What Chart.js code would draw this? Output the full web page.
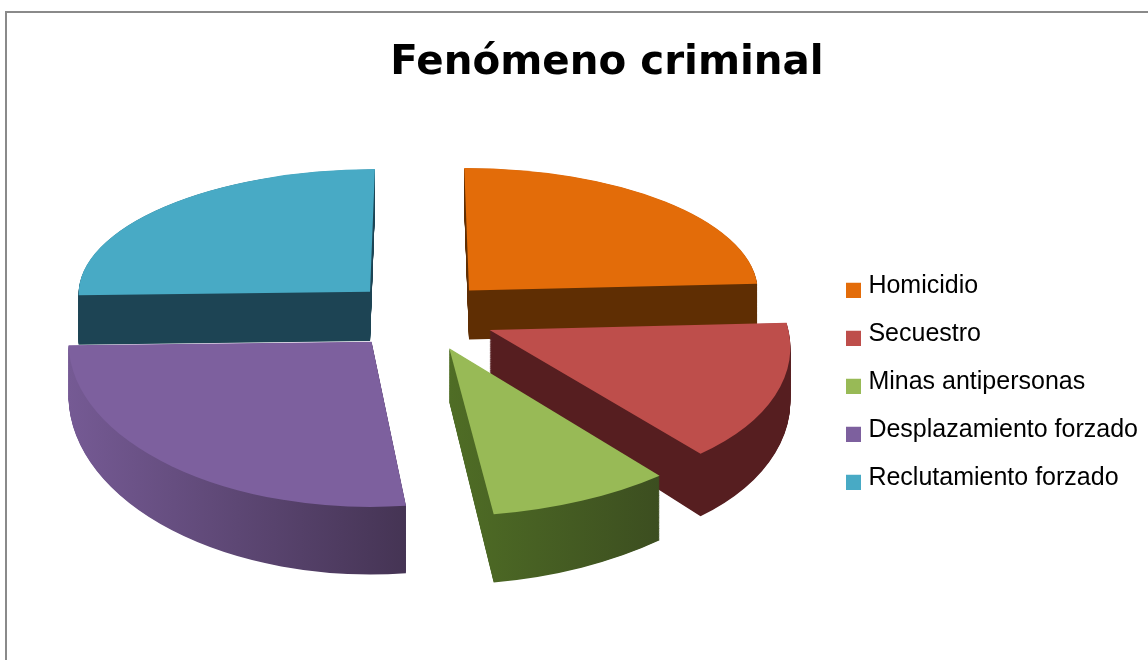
<!DOCTYPE html>
<html lang="es">
<head>
<meta charset="utf-8">
<script src="https://cdn.jsdelivr.net/npm/chart.js@4"></script>
<style>
html,body{margin:0;padding:0;background:#fff;overflow:hidden;width:1148px;height:660px}
#frame{position:absolute;left:5px;top:11px;width:1300px;height:800px;border:2px solid #8a8a8a;box-sizing:border-box}
canvas{position:absolute;left:0;top:0}
</style>
</head>
<body>
<div id="frame"></div>
<canvas id="c" width="1148" height="660"></canvas>
<script>
const categories = ["Homicidio","Secuestro","Minas antipersonas","Desplazamiento forzado","Reclutamiento forzado"];
const values = [24.2,15.1,8.8,26.5,25.4];
const topColors = ["#E36C09","#BE4E4B","#98BA56","#7D609E","#48AAC5"];
const wallLeft = ["#5F2E03","#561E20","#4F6D25","#755A94","#1D4454"];
const wallRight = ["#5F2E03","#561E20","#3C4E20","#453454","#1D4454"];
const explode = [0.245,0.255,0.25,0.245,0.24];
const drawOrder = [0,4,1,3,2];
const view = {cx:420,cy:315,fx:296,fy:141,fz:51,k:0.11};

function project(wx,wy,z){
  const w = 1 - view.k*wy;
  return [view.cx + view.fx*wx/w, view.cy + view.fy*wy/w + view.fz*z/(w*w)];
}
function sliceMatrix(arc,i,z){
  const R = arc.outerRadius, s = arc.startAngle, e = arc.endAngle, mid=(s+e)/2;
  const ex = Math.cos(mid)*explode[i], ey = Math.sin(mid)*explode[i];
  const A = project(ex,ey,z);
  const B = project(ex+Math.cos(s),ey+Math.sin(s),z);
  const C = project(ex+Math.cos(e),ey+Math.sin(e),z);
  const u0=R*Math.cos(s),v0=R*Math.sin(s),u1=R*Math.cos(e),v1=R*Math.sin(e);
  const det=u0*v1-u1*v0;
  const bx=B[0]-A[0],by=B[1]-A[1],cx=C[0]-A[0],cy=C[1]-A[1];
  const a=(bx*v1-cx*v0)/det, c=(cx*u0-bx*u1)/det;
  const b=(by*v1-cy*v0)/det, d=(cy*u0-by*u1)/det;
  return {a,b,c,d,e:A[0]-a*arc.x-c*arc.y,f:A[1]-b*arc.x-d*arc.y};
}
function fillOpts(color){
  return {backgroundColor:color,borderColor:color,borderWidth:0,borderAlign:'center',borderJoinStyle:'round',
          borderRadius:0,offset:0,spacing:0,circular:true,borderDash:[],borderDashOffset:0};
}
function screenGradient(ctx,m,x0,x1,c0,c1){
  const n=m.a*m.a+m.c*m.c;
  const t0=(x0-m.e)/n,t1=(x1-m.e)/n;
  const g=ctx.createLinearGradient(t0*m.a,t0*m.c,t1*m.a,t1*m.c);
  g.addColorStop(0,c0);g.addColorStop(1,c1);
  return g;
}
const pie3d = {
  id:'pie3d',
  beforeDatasetsDraw(chart){
    const ctx=chart.ctx, arcs=chart.getDatasetMeta(0).data;
    drawOrder.forEach(i=>{
      const arc=arcs[i], saved=arc.options;
      const s=arc.startAngle,e=arc.endAngle,mid=(s+e)/2;
      const ex=Math.cos(mid)*explode[i],ey=Math.sin(mid)*explode[i];
      const xs=[[ex,ey]];
      for(let t=0;t<=8;t++){const a=s+(e-s)*t/8;xs.push([ex+Math.cos(a),ey+Math.sin(a)]);}
      const px=xs.map(p=>project(p[0],p[1],0)[0]);
      const x0=Math.min(...px),x1=Math.max(...px);
      const steps=90;
      for(let k=steps;k>=0;k--){
        const z=k/steps, m=sliceMatrix(arc,i,z);
        ctx.save();
        ctx.transform(m.a,m.b,m.c,m.d,m.e,m.f);
        arc.options=fillOpts(k===0?topColors[i]:screenGradient(ctx,m,x0,x1,wallLeft[i],wallRight[i]));
        arc.draw(ctx,chart.chartArea);
        ctx.restore();
      }
      arc.options=saved;
    });
    return false;
  }
};
function swatch(color){
  const cv=document.createElement('canvas');cv.width=15;cv.height=23;
  const g=cv.getContext('2d');g.fillStyle=color;g.fillRect(0,8,15,15);
  return cv;
}
new Chart(document.getElementById('c'),{
  type:'pie',
  data:{labels:categories,datasets:[{data:values,backgroundColor:topColors,borderWidth:0}]},
  plugins:[pie3d],
  options:{
    responsive:false,animation:false,rotation:0,
    layout:{padding:{left:66,right:0,top:39,bottom:0}},
    plugins:{
      tooltip:{enabled:false},
      title:{display:true,text:"Fenómeno criminal",color:"#000",
        font:{family:"'DejaVu Sans'",size:40.4,weight:'bold'},padding:{top:0,bottom:17}},
      legend:{position:'right',fullSize:false,
        labels:{color:"#000",font:{family:"'Liberation Sans'",size:25},padding:23,
          usePointStyle:true,pointStyleWidth:5,
          generateLabels(chart){
            return categories.map((t,i)=>({text:t,fontColor:"#000",fillStyle:topColors[i],strokeStyle:topColors[i],lineWidth:0,
              pointStyle:swatch(topColors[i]),hidden:false,index:i}));
          }}}
    }
  }
});
</script>
</body>
</html>
